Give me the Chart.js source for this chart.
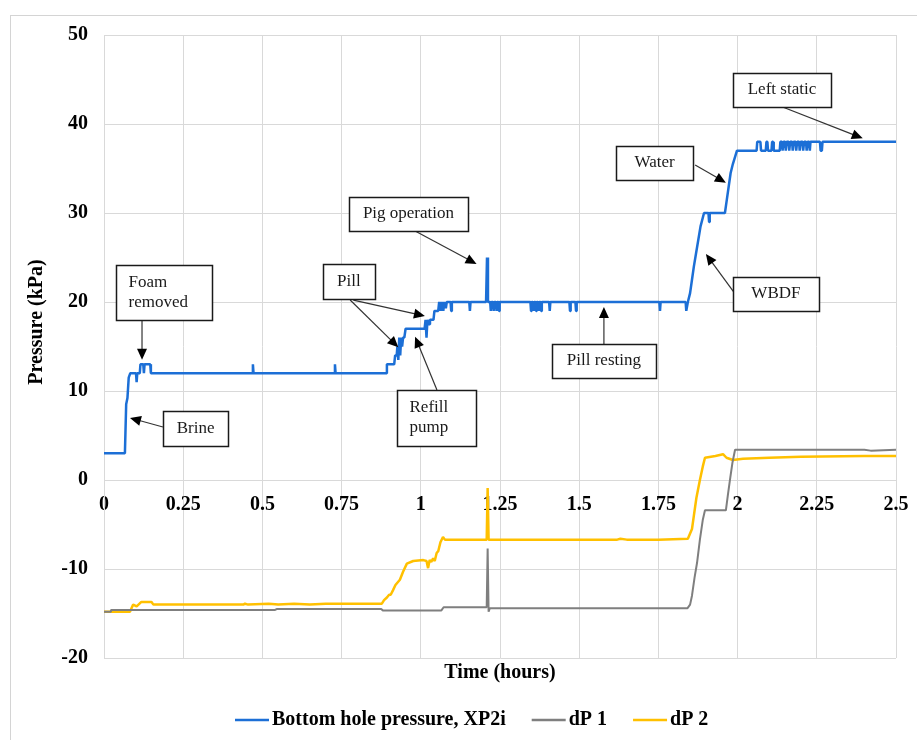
<!DOCTYPE html>
<html>
<head>
<meta charset="utf-8">
<script src="https://cdn.jsdelivr.net/npm/chart.js@4.4.1/dist/chart.umd.min.js"></script>
<style>
  html, body { margin: 0; padding: 0; background: #ffffff; }
  #wrap { width: 917px; height: 740px; position: relative; }
</style>
</head>
<body>
<div id="wrap"><canvas id="chart" width="917" height="740"></canvas></div>
<script>
// ---- Series: bottom hole pressure (XP2i) ----
const bhpTime = [0, 0.066, 0.070, 0.074, 0.078, 0.083, 0.101, 0.103, 0.105, 0.113, 0.115, 0.124, 0.126, 0.128, 0.146, 0.148,
  0.468, 0.470, 0.472, 0.727, 0.729, 0.731, 0.891, 0.893, 0.916, 0.919, 0.924, 0.926, 0.929, 0.932, 0.935, 0.938, 0.941, 0.944, 0.948, 0.952,
  1.012, 1.015, 1.018, 1.021, 1.026, 1.029, 1.040, 1.043, 1.055, 1.058, 1.063, 1.066, 1.071, 1.074, 1.079, 1.082,
  1.094, 1.096, 1.098, 1.153, 1.155, 1.157, 1.206, 1.209, 1.212, 1.219, 1.221, 1.223, 1.228, 1.230, 1.232, 1.237, 1.239, 1.241, 1.245, 1.247, 1.249,
  1.346, 1.348, 1.350, 1.354, 1.356, 1.358, 1.362, 1.364, 1.366, 1.370, 1.372, 1.374, 1.378, 1.380, 1.382, 1.405, 1.407, 1.409,
  1.469, 1.471, 1.473, 1.488, 1.490, 1.492, 1.753, 1.755, 1.757, 1.836, 1.838, 1.843, 1.850, 1.856, 1.862, 1.869, 1.876, 1.883, 1.894,
  1.908, 1.910, 1.912, 1.960, 1.966, 1.972, 1.978, 1.985, 1.998,
  2.060, 2.062, 2.072, 2.074, 2.089, 2.091, 2.094, 2.096, 2.107, 2.109, 2.112, 2.114,
  2.133, 2.135, 2.140, 2.142, 2.145, 2.150, 2.152, 2.155, 2.161, 2.163, 2.166, 2.172, 2.174, 2.177, 2.183, 2.185, 2.188, 2.194, 2.196, 2.199,
  2.205, 2.207, 2.210, 2.216, 2.218, 2.221, 2.226, 2.228, 2.230, 2.260, 2.262, 2.266, 2.268, 2.500];
const bhpKpa = [3, 3, 8.5, 9.2, 11.5, 12, 12, 11, 12, 12, 13, 13, 12, 13, 13, 12,
  12, 13, 12, 12, 13, 12, 12, 13, 13, 14, 14, 15, 13.5, 16, 14, 16, 15, 16, 16, 17,
  17, 18, 16, 18, 17.5, 18, 18, 19, 19, 20, 19, 20, 19, 20, 19.3, 20,
  20, 19, 20, 20, 19, 20, 20, 25, 20, 20, 19, 20, 20, 19, 20, 20, 19, 20, 20, 19, 20,
  20, 19, 20, 20, 19, 20, 20, 19, 20, 20, 19, 20, 20, 19, 20, 20, 19, 20,
  20, 19, 20, 20, 19, 20, 20, 19, 20, 20, 19, 20, 21, 22.5, 24, 25.5, 27, 28.5, 30,
  30, 29, 30, 30, 31.5, 33, 34.5, 35.5, 37,
  37, 38, 38, 37, 37, 38, 38, 37, 37, 38, 38, 37,
  37, 38, 38, 37, 38, 38, 37, 38, 38, 37, 38, 38, 37, 38, 38, 37, 38, 38, 37, 38,
  38, 37, 38, 38, 37, 38, 38, 37, 38, 38, 37, 37, 38, 38];

// ---- Series: dP 1 ----
const dp1Time = [0, 0.019, 0.022, 0.540, 0.545, 0.875, 0.880, 1.065, 1.072, 1.208, 1.211, 1.214, 1.218,
  1.842, 1.850, 1.856, 1.864, 1.872, 1.881, 1.890, 1.897, 1.963, 1.970, 1.977, 1.984, 1.992, 2.400, 2.420, 2.500];
const dp1Kpa = [-14.8, -14.8, -14.6, -14.6, -14.5, -14.5, -14.65, -14.65, -14.3, -14.3, -7.7, -14.8, -14.4,
  -14.4, -14.0, -13.0, -11.0, -9.3, -6.7, -4.5, -3.4, -3.4, -1.5, 0.3, 2.0, 3.4, 3.4, 3.3, 3.4];

// ---- Series: dP 2 ----
const dp2Time = [0, 0.082, 0.092, 0.103, 0.118, 0.150, 0.156, 0.440, 0.445, 0.455, 0.520, 0.550, 0.600, 0.650, 0.700, 0.877,
  0.884, 0.893, 0.900, 0.905, 0.912, 0.920, 0.934, 0.944, 0.956, 0.976, 1.008, 1.018, 1.023, 1.028, 1.033, 1.039, 1.044, 1.050, 1.055, 1.062, 1.070, 1.076,
  1.208, 1.211, 1.214, 1.620, 1.630, 1.650, 1.750, 1.843, 1.850, 1.856, 1.862, 1.870, 1.881, 1.890, 1.897,
  1.930, 1.954, 1.965, 1.985, 2.017, 2.100, 2.200, 2.400, 2.500];
const dp2Kpa = [-14.8, -14.8, -14.0, -14.2, -13.7, -13.7, -14.0, -14.0, -13.9, -14.0, -13.9, -14.0, -13.9, -14.0, -13.9, -13.9,
  -13.5, -13.2, -12.9, -12.9, -12.4, -11.8, -11.2, -10.3, -9.4, -9.1, -9.0, -9.1, -9.9, -9.0, -9.2, -8.8, -9.1, -8.2, -8.0, -7.0, -6.4, -6.7,
  -6.7, -0.9, -6.7, -6.7, -6.6, -6.7, -6.7, -6.6, -6.0, -5.5, -4.0, -2.0, 0.0, 1.5, 2.5,
  2.7, 2.9, 2.5, 2.25, 2.4, 2.5, 2.6, 2.7, 2.7];

// ---- Axis tick labels ----
const timeTicks = ['0', '0.25', '0.5', '0.75', '1', '1.25', '1.5', '1.75', '2', '2.25', '2.5'];
const pressureTicks = ['-20', '-10', '0', '10', '20', '30', '40', '50'];

const seriesNames = ['Bottom hole pressure, XP2i', 'dP 1', 'dP 2'];
const seriesColors = ['#1c6fd6', '#7f7f7f', '#ffc000'];

const SERIF = '"Liberation Serif", "Times New Roman", serif';

const toPoints = (ts, vs) => ts.map((t, i) => ({ x: t, y: vs[i] }));

// Event callouts: text box centred on (cx, cy) in data units, arrows from (x1, y1) to tip (x2, y2)
const callouts = [
  { lines: ['Foam', 'removed'], cx: 0.189, cy: 21.07, w: 96, h: 55, align: 'left', arrows: [[0.120, 17.98, 0.120, 13.5]] },
  { lines: ['Brine'], cx: 0.289, cy: 5.79, w: 65, h: 35, arrows: [[0.186, 5.96, 0.082, 6.97]] },
  { lines: ['Pill'], cx: 0.773, cy: 22.30, w: 52, h: 35, arrows: [[0.777, 20.22, 0.929, 14.91], [0.787, 20.22, 1.013, 18.43]] },
  { lines: ['Refill', 'pump'], cx: 1.050, cy: 6.97, w: 79, h: 56, align: 'left', arrows: [[1.051, 10.11, 0.982, 16.10]] },
  { lines: ['Pig operation'], cx: 0.961, cy: 29.89, w: 119, h: 34, arrows: [[0.982, 27.98, 1.176, 24.27]] },
  { lines: ['Pill resting'], cx: 1.578, cy: 13.37, w: 104, h: 34, arrows: [[1.578, 15.28, 1.578, 19.44]] },
  { lines: ['WBDF'], cx: 2.121, cy: 20.90, w: 86, h: 34, arrows: [[1.987, 21.16, 1.900, 25.39]] },
  { lines: ['Water'], cx: 1.738, cy: 35.62, w: 77, h: 34, arrows: [[1.866, 35.39, 1.963, 33.40]] },
  { lines: ['Left static'], cx: 2.140, cy: 43.82, w: 98, h: 34, arrows: [[2.144, 41.88, 2.395, 38.39]] }
];

function drawArrow(ctx, x1, y1, x2, y2) {
  const ang = Math.atan2(y2 - y1, x2 - x1);
  const len = 11, half = 5;
  ctx.save();
  ctx.strokeStyle = '#333333';
  ctx.lineWidth = 1.2;
  ctx.beginPath();
  ctx.moveTo(x1, y1);
  ctx.lineTo(x2 - Math.cos(ang) * len * 0.8, y2 - Math.sin(ang) * len * 0.8);
  ctx.stroke();
  ctx.fillStyle = '#000000';
  ctx.beginPath();
  ctx.moveTo(x2, y2);
  ctx.lineTo(x2 - Math.cos(ang) * len - Math.sin(ang) * half, y2 - Math.sin(ang) * len + Math.cos(ang) * half);
  ctx.lineTo(x2 - Math.cos(ang) * len + Math.sin(ang) * half, y2 - Math.sin(ang) * len - Math.cos(ang) * half);
  ctx.closePath();
  ctx.fill();
  ctx.restore();
}

const decorations = {
  id: 'decorations',
  beforeDraw(chart) {
    const ctx = chart.ctx;
    ctx.save();
    ctx.fillStyle = '#ffffff';
    ctx.fillRect(0, 0, chart.width, chart.height);
    // outer frame
    ctx.strokeStyle = '#d4d4d4';
    ctx.lineWidth = 1;
    ctx.strokeRect(10.5, 15.5, 1000, 1000);
    ctx.restore();
  },
  afterDraw(chart) {
    const ctx = chart.ctx;
    const xs = chart.scales.x, ys = chart.scales.y;
    const area = chart.chartArea;

    // axis titles
    ctx.save();
    ctx.fillStyle = '#000000';
    ctx.font = 'bold 20px ' + SERIF;
    ctx.textAlign = 'center';
    ctx.textBaseline = 'middle';
    ctx.fillText('Time (hours)', (area.left + area.right) / 2, 673);
    ctx.translate(37, 322);
    ctx.rotate(-Math.PI / 2);
    ctx.fillText('Pressure (kPa)', 0, 0);
    ctx.restore();

    // callouts
    ctx.save();
    ctx.font = '17px ' + SERIF;
    callouts.forEach(c => {
      c.arrows.forEach(a => {
        drawArrow(ctx, xs.getPixelForValue(a[0]), ys.getPixelForValue(a[1]),
                       xs.getPixelForValue(a[2]), ys.getPixelForValue(a[3]));
      });
    });
    callouts.forEach(c => {
      const px = xs.getPixelForValue(c.cx), py = ys.getPixelForValue(c.cy);
      const left = Math.round(px - c.w / 2) + 0.5, top = Math.round(py - c.h / 2) + 0.5;
      ctx.fillStyle = '#ffffff';
      ctx.fillRect(left, top, c.w, c.h);
      ctx.strokeStyle = '#1a1a1a';
      ctx.lineWidth = 1.5;
      ctx.strokeRect(left, top, c.w, c.h);
      ctx.fillStyle = '#1a1a1a';
      ctx.textBaseline = 'middle';
      const lh = 20;
      const startY = py - (c.lines.length - 1) * lh / 2;
      c.lines.forEach((t, i) => {
        if (c.align === 'left') {
          ctx.textAlign = 'left';
          ctx.fillText(t, left + 12, startY + i * lh);
        } else {
          ctx.textAlign = 'center';
          ctx.fillText(t, px, startY + i * lh);
        }
      });
    });
    ctx.restore();

    // legend
    ctx.save();
    ctx.font = 'bold 20px ' + SERIF;
    ctx.textBaseline = 'middle';
    ctx.textAlign = 'left';
    let lx = 235;
    const ly = 720;
    seriesNames.forEach((name, i) => {
      ctx.strokeStyle = seriesColors[i];
      ctx.lineWidth = 2.5;
      ctx.beginPath();
      ctx.moveTo(lx, ly);
      ctx.lineTo(lx + 34, ly);
      ctx.stroke();
      ctx.fillStyle = '#000000';
      ctx.fillText(name, lx + 37, ly);
      lx += 37 + ctx.measureText(name).width + 26;
    });
    ctx.restore();
  }
};

new Chart(document.getElementById('chart'), {
  type: 'line',
  data: {
    datasets: [
      { label: seriesNames[0], data: toPoints(bhpTime, bhpKpa), borderColor: seriesColors[0], borderWidth: 2.5 },
      { label: seriesNames[1], data: toPoints(dp1Time, dp1Kpa), borderColor: seriesColors[1], borderWidth: 2 },
      { label: seriesNames[2], data: toPoints(dp2Time, dp2Kpa), borderColor: seriesColors[2], borderWidth: 2.5 }
    ].map(d => Object.assign(d, { pointRadius: 0, tension: 0, fill: false, borderJoinStyle: 'bevel', backgroundColor: d.borderColor }))
  },
  options: {
    responsive: false,
    animation: false,
    devicePixelRatio: 1,
    layout: { padding: { left: 0, top: 35, right: 21, bottom: 82 } },
    plugins: { legend: { display: false }, tooltip: { enabled: false } },
    scales: {
      x: {
        type: 'linear',
        min: 0, max: 2.5,
        position: { y: 0 },
        ticks: {
          stepSize: 0.25, autoSkip: false, maxRotation: 0, padding: 13, color: '#000000',
          font: { family: SERIF, size: 20, weight: 'bold' },
          callback: (v) => timeTicks[Math.round(v / 0.25)]
        },
        grid: { color: '#d9d9d9', lineWidth: 1, drawTicks: false },
        border: { color: '#d9d9d9' },
        afterFit: (s) => { s.paddingLeft = 0; s.paddingRight = 0; }
      },
      y: {
        min: -20, max: 50,
        ticks: {
          stepSize: 10, padding: 16, color: '#000000',
          font: { family: SERIF, size: 20, weight: 'bold' },
          callback: (v) => pressureTicks[Math.round((v + 20) / 10)]
        },
        grid: { color: '#d9d9d9', lineWidth: 1, drawTicks: false },
        border: { color: '#d9d9d9' },
        afterFit: (s) => { s.width = 104; }
      }
    }
  },
  plugins: [decorations]
});
</script>
</body>
</html>
